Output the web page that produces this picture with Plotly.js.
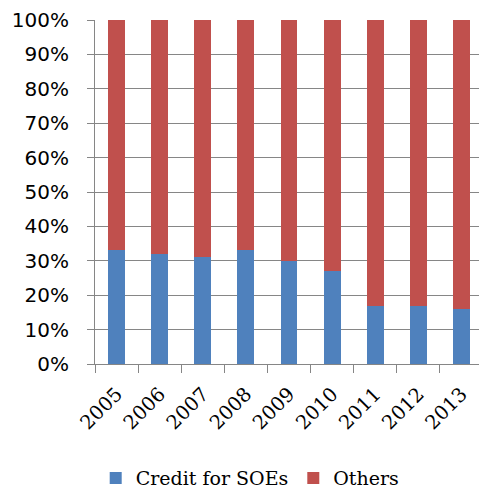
<!DOCTYPE html>
<html>
<head>
<meta charset="utf-8">
<script src="https://cdn.plot.ly/plotly-3.0.1.min.js"></script>
<style>
html,body{margin:0;padding:0;overflow:hidden;background:#fff;}
#chart{width:483px;height:491px;}
</style>
</head>
<body>
<div id="chart"></div>
<script>
const years = ['2005','2006','2007','2008','2009','2010','2011','2012','2013'];
const soeShare = [33, 32, 31, 33, 30, 27, 17, 17, 16];
const othersShare = [67, 68, 69, 67, 70, 73, 83, 83, 84];
const yTicks = [0,10,20,30,40,50,60,70,80,90,100];

const traces = [
  {type:'bar', name:'Credit for SOEs', x:years, y:soeShare,
   marker:{color:'#4F81BD'}},
  {type:'bar', name:'Others', x:years, y:othersShare,
   marker:{color:'#C0504D'}}
];

const layout = {
  width:483, height:491,
  margin:{l:95, r:0, t:20, b:127, autoexpand:false},
  barmode:'stack',
  bargap:0.61,
  showlegend:true,
  plot_bgcolor:'#fff', paper_bgcolor:'#fff',
  xaxis:{
    type:'category',
    tickangle:-45,
    tickson:'boundaries',
    ticks:'outside', ticklen:8, tickcolor:'#868686', tickwidth:1,
    showline:true, linecolor:'#868686', linewidth:1,
    showgrid:false,
    automargin:false,
    ticklabelstandoff:10,
    tickfont:{family:'DejaVu Serif', size:19.5, color:'#000'}
  },
  yaxis:{
    range:[0,100],
    tickvals:yTicks,
    ticktext:yTicks.map(v=>v+'%'),
    ticks:'outside', ticklen:7, tickcolor:'#868686', tickwidth:1,
    showline:true, linecolor:'#868686', linewidth:1,
    showgrid:true, gridcolor:'#868686', gridwidth:1,
    zeroline:false,
    automargin:false,
    ticklabelstandoff:14,
    tickfont:{family:'DejaVu Sans', size:20, color:'#000'}
  },
  legend:{
    orientation:'h',
    x:0.40, xanchor:'center',
    y:-0.332, yanchor:'middle',
    font:{family:'DejaVu Serif', size:19, color:'#000'},
    traceorder:'normal',
    itemwidth:30
  }
};

Plotly.newPlot('chart', traces, layout, {displayModeBar:false, staticPlot:true});
</script>
</body>
</html>
